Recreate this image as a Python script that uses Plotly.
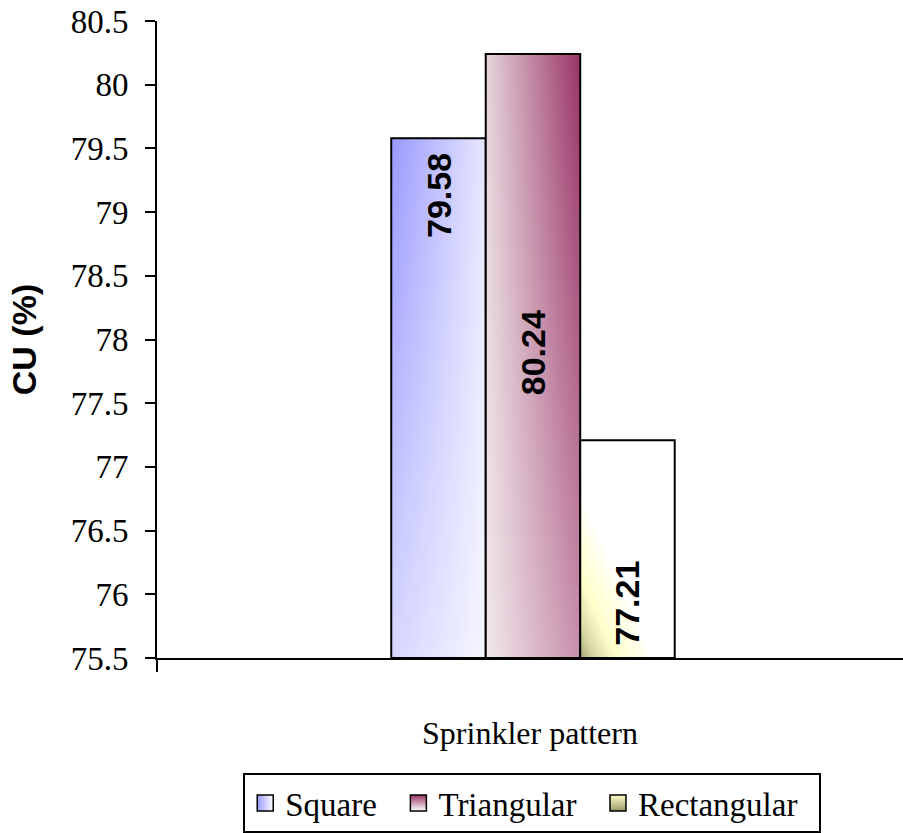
import numpy as np
import plotly.graph_objects as go
from plotly.colors import sample_colorscale

# ---------------- data ----------------
categories = ["Square", "Triangular", "Rectangular"]
cu_values = [79.58, 80.24, 77.21]
y_tick_vals = [75.5, 76.0, 76.5, 77.0, 77.5, 78.0, 78.5, 79.0, 79.5, 80.0, 80.5]
y_tick_labels = ["75.5", "76", "76.5", "77", "77.5", "78", "78.5", "79", "79.5", "80", "80.5"]
x_title = "Sprinkler pattern"
y_title = "CU (%)"

# ---------------- styling / placement ----------------
Y_MIN, Y_MAX = 75.5, 80.5
GROUP_WIDTH = 0.38            # fraction of the category slot occupied by the bars
GROUP_CENTER = 0.004
label_y = [79.13, 77.90, 75.93]   # where the rotated value labels sit
SERIF = "Liberation Serif"
SANS = "Liberation Sans"
LEGEND_PAD = "\u00a0\u00a0"

bar_h_gradients = [
    [[0, "#9999FF"], [1, "#E8E8FF"]],
    [[0, "#E6D6DC"], [1, "#993366"]],
    None,
]
bar_white_overlay = [0.6, 0.45, None]
rect_corner_scale = [[0, "#A3A375"], [0.22, "#D9D9A6"], [0.5, "#FFFFCC"],
                     [0.8, "#FFFFE6"], [1, "#FFFFFF"]]
legend_style = [
    dict(color="#9999FF", gradient=dict(type="horizontal", color="#FFFFFF")),
    dict(color="#993366", gradient=dict(type="vertical", color="#FFFFFF")),
    dict(color="#FFFFCC", gradient=dict(type="vertical", color="#999966")),
]

fig = go.Figure()
n = len(categories)
bw = GROUP_WIDTH / n

for i, (cat, v) in enumerate(zip(categories, cu_values)):
    x0 = GROUP_CENTER - GROUP_WIDTH / 2 + i * bw
    x1 = x0 + bw
    xs = [x0, x1, x1, x0, x0]
    ys = [Y_MIN, Y_MIN, v, v, Y_MIN]
    if bar_h_gradients[i] is not None:
        fig.add_trace(go.Scatter(
            x=xs, y=ys, mode="lines", fill="toself", line=dict(width=0),
            fillgradient=dict(type="horizontal", colorscale=bar_h_gradients[i],
                              start=x0, stop=x1),
            showlegend=False, hoverinfo="skip"))
        a = bar_white_overlay[i]
        fig.add_trace(go.Scatter(
            x=xs, y=ys, mode="lines", fill="toself", line=dict(width=0),
            fillgradient=dict(type="vertical",
                              colorscale=[[0, f"rgba(255,255,255,{a})"],
                                          [1, "rgba(255,255,255,0)"]],
                              start=Y_MIN, stop=v),
            showlegend=False, hoverinfo="skip"))
    else:
        fig.add_trace(go.Scatter(
            x=xs, y=ys, mode="lines", fill="toself", fillcolor="#FFFFFF",
            line=dict(width=0), showlegend=False, hoverinfo="skip"))
        # corner shading (nested triangles from the bottom-left corner)
        a_x = 0.79 * bw
        b_y = 0.77 * (v - Y_MIN)
        steps = 40
        for k in range(steps, 0, -1):
            t = k / steps
            col = sample_colorscale(rect_corner_scale, [t])[0]
            fig.add_trace(go.Scatter(
                x=[x0, x0 + t * a_x, x0, x0],
                y=[Y_MIN, Y_MIN, Y_MIN + t * b_y, Y_MIN],
                mode="lines", fill="toself", fillcolor=col,
                line=dict(width=0), showlegend=False, hoverinfo="skip"))
    # outline
    fig.add_trace(go.Scatter(
        x=xs, y=ys, mode="lines", line=dict(color="black", width=2),
        showlegend=False, hoverinfo="skip"))
    # value label
    fig.add_annotation(
        x=(x0 + x1) / 2, y=label_y[i], text=f"{v:.2f}", textangle=-90,
        showarrow=False, xref="x", yref="y",
        font=dict(family=SANS, size=34, color="black", weight="bold"))

# legend-only entries
for i, cat in enumerate(categories):
    fig.add_trace(go.Scatter(
        x=[None], y=[None], mode="markers", name=cat + LEGEND_PAD,
        marker=dict(symbol="square", size=16,
                    line=dict(color="black", width=1.5), **legend_style[i])))

fig.update_layout(
    width=903, height=833,
    margin=dict(l=157, r=0, t=21, b=170),
    paper_bgcolor="white", plot_bgcolor="white",
    showlegend=True,
    legend=dict(orientation="h", x=0.503, xanchor="center", y=-0.181, yanchor="top",
                bordercolor="black", borderwidth=2,
                font=dict(family=SERIF, size=33, color="black"),
                itemsizing="trace", tracegroupgap=0, itemwidth=30),
    xaxis=dict(range=[-0.5, 0.5], showgrid=False, zeroline=False,
               showline=True, linecolor="black", linewidth=2,
               tickvals=[-0.5], ticks="outside", ticklen=12, tickwidth=2,
               tickcolor="black", showticklabels=False,
               title=dict(text=x_title, standoff=51,
                          font=dict(family=SERIF, size=32, color="black"))),
    yaxis=dict(range=[Y_MIN, Y_MAX], showgrid=False, zeroline=False,
               showline=True, linecolor="black", linewidth=2,
               tickvals=y_tick_vals, ticktext=y_tick_labels,
               ticks="outside", ticklen=10, tickwidth=2, tickcolor="black",
               tickfont=dict(family=SERIF, size=33, color="black"),
               ticklabelstandoff=10, ticklabeloverflow="allow",
               title=dict(text=y_title, standoff=24,
                          font=dict(family=SANS, size=34, color="black",
                                    weight="bold"))),
)

fig.write_html("out.html",
               config={"displayModeBar": False},
               post_script="document.body.style.margin='0';"
                           "document.body.style.overflow='hidden';")
